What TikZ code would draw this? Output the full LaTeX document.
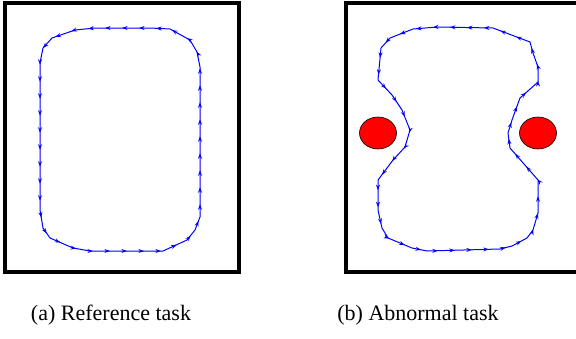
\documentclass[tikz,border=0pt]{standalone}
\usepackage{fontspec}
\setmainfont{Liberation Serif}
\usetikzlibrary{arrows.meta,decorations.markings}
\tikzstyle{frame} = [black, line width=4pt]
\tikzstyle{track} = [blue, line width=1pt, line join=round,
  postaction={decorate}, decoration={markings,
  mark=between positions 0.02 and 1 step 17pt with {\arrow{Stealth[length=5.5pt,width=4pt]}}}]
\tikzstyle{obstacle} = [draw=black, fill=red, line width=0.6pt]

\begin{document}
\begin{tikzpicture}[x=1pt,y=-1pt]
            \useasboundingbox (0,0) rectangle (576,338);
            % reference task
            \draw [frame] (5,3) rectangle (239,272);
            \draw [track] (170,29) -- (150,28) -- (95,28) -- (75,30) -- (52,38) -- (43,48)
                -- (40,63) -- (40,210) -- (43,228) -- (50,238) -- (73,248) -- (90,251)
                -- (163,251) -- (187,240) -- (195,230) -- (200,217) -- (200,67)
                -- (197,52) -- (190,40) -- cycle;
            \node (capa) at (111,315) {\fontsize{22}{26}\selectfont (a) Reference task};
            % abnormal task
            \draw [frame] (346,3) rectangle (577.5,272);
            \draw [obstacle] (378,133) ellipse (18.5 and 16);
            \draw [obstacle] (538,133) ellipse (18.5 and 16);
            \draw [track] (530,42) -- (493,28) -- (437,27) -- (413,29) -- (390,38) -- (381,48)
                -- (378,80) -- (392,95) -- (402,110) -- (410,130) -- (405,147) -- (393,160)
                -- (378,180) -- (378,210) -- (382,228) -- (388,238) -- (412,248) -- (427,251)
                -- (500,249) -- (512,246) -- (527,238) -- (533,230) -- (538,213) -- (538,180)
                -- (510,148) -- (508,133) -- (512,120) -- (520,98) -- (538,82) -- (538,67)
                -- (533,53) -- cycle;
            \node (capb) at (418,315) {\fontsize{22}{26}\selectfont (b) Abnormal task};
\end{tikzpicture}
\end{document}
